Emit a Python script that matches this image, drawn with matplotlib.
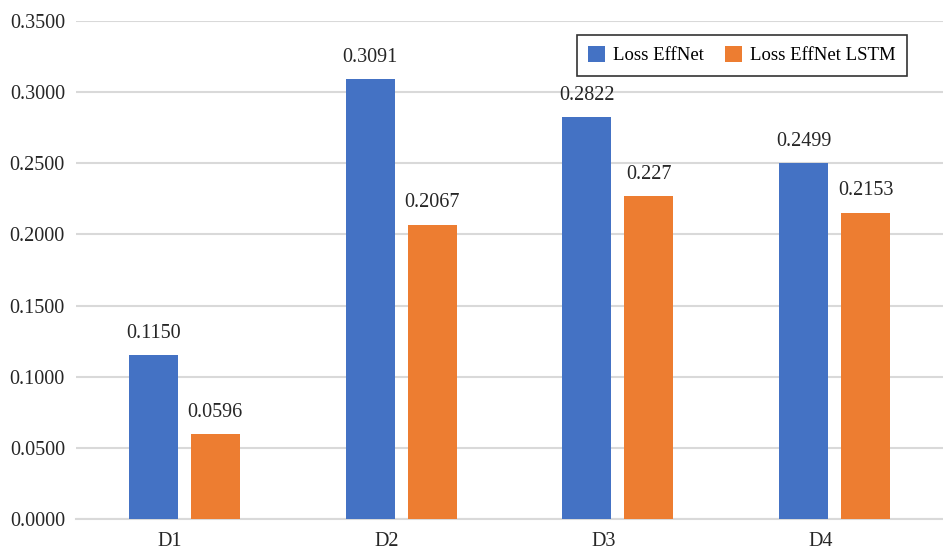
import matplotlib
matplotlib.use("Agg")
import matplotlib.pyplot as plt
from matplotlib.ticker import FormatStrFormatter, MultipleLocator
import numpy as np

categories = ["D1", "D2", "D3", "D4"]
loss_effnet = [0.1150, 0.3091, 0.2822, 0.2499]
loss_effnet_lstm = [0.0596, 0.2067, 0.2270, 0.2153]
effnet_labels = ["0.1150", "0.3091", "0.2822", "0.2499"]
lstm_labels = ["0.0596", "0.2067", "0.227", "0.2153"]
series_names = ["Loss EffNet", "Loss EffNet LSTM"]

plt.rcParams["font.family"] = ["Liberation Serif", "DejaVu Serif"]

fig = plt.figure(figsize=(9.43, 5.49), dpi=100)
ax = fig.add_axes([76 / 943, 1 - 519 / 549, (943 - 76) / 943, (519 - 21) / 549])

x = np.arange(len(categories))
w = 0.226
off = 0.143
b1 = ax.bar(x - off, loss_effnet, w, color="#4472C4", label=series_names[0], zorder=3)
b2 = ax.bar(x + off, loss_effnet_lstm, w, color="#ED7D31", label=series_names[1], zorder=3)

for rects, labels in ((b1, effnet_labels), (b2, lstm_labels)):
    for r, t in zip(rects, labels):
        ax.annotate(t, (r.get_x() + r.get_width() / 2, r.get_height()),
                    xytext=(0, 9), textcoords="offset points",
                    ha="center", va="bottom", fontsize=14.5, color="#262626")

ax.set_xlim(-0.5, len(categories) - 0.5)
ax.set_ylim(0, 0.35)
ax.yaxis.set_major_locator(MultipleLocator(0.05))
ax.yaxis.set_major_formatter(FormatStrFormatter("%.4f"))
ax.grid(axis="y", color="#d9d9d9", linewidth=1.5, zorder=0)
ax.set_axisbelow(True)

# category labels sit slightly left of each bar pair
ax.set_xticks(x - 0.066)
ax.set_xticklabels(categories)

ax.tick_params(axis="both", length=0, labelsize=14.5, colors="#262626")
ax.tick_params(axis="y", pad=8)
ax.tick_params(axis="x", pad=9)
for s in ["top", "right", "left"]:
    ax.spines[s].set_visible(False)
ax.spines["bottom"].set_color("#d9d9d9")
ax.spines["bottom"].set_linewidth(1.5)

leg = ax.legend(loc="upper right", bbox_to_anchor=((907 - 76) / 867, 1 - (35 - 21) / 498),
                ncol=2, fontsize=13.5, frameon=True, fancybox=False, edgecolor="black",
                handlelength=0.9, handleheight=0.9, columnspacing=1.12, handletextpad=0.43,
                borderpad=0.6, borderaxespad=0)
leg.get_frame().set_linewidth(1.2)

fig.savefig("out.png", dpi=100)
